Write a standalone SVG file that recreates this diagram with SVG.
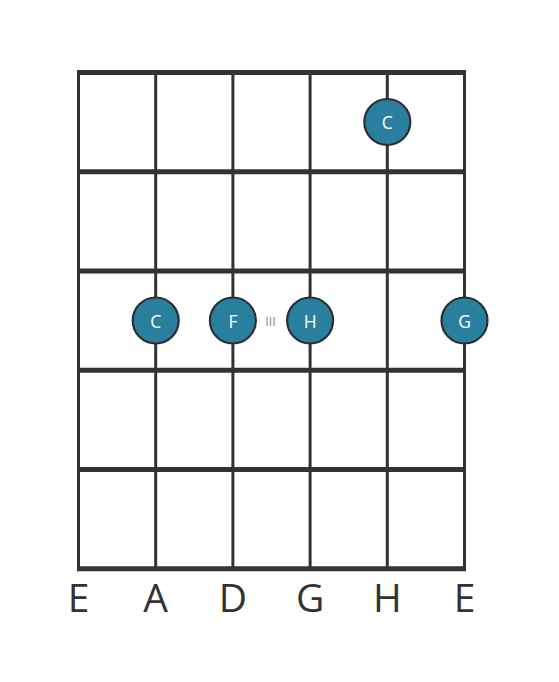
<svg xmlns="http://www.w3.org/2000/svg" width="559" height="682" viewBox="0 0 559 682">
<style>
.fret{stroke:#333;stroke-width:5}
.str{stroke:#333;stroke-width:3}
.dot{fill:#2b7f9e;stroke:#2a2f33;stroke-width:2.2}
.dt{fill:#fff;font-family:"Open Sans",sans-serif;font-size:17.5px;text-anchor:middle;dominant-baseline:central}
.lbl{fill:#333;font-family:"Open Sans",sans-serif;font-size:39px;text-anchor:middle}
</style>
<rect width="559" height="682" fill="#fff"/>
<g id="grid">
<line class="str" x1="78.5" y1="72" x2="78.5" y2="569"/>
<line class="str" x1="155.7" y1="72" x2="155.7" y2="569"/>
<line class="str" x1="232.9" y1="72" x2="232.9" y2="569"/>
<line class="str" x1="310.1" y1="72" x2="310.1" y2="569"/>
<line class="str" x1="387.3" y1="72" x2="387.3" y2="569"/>
<line class="str" x1="464.5" y1="72" x2="464.5" y2="569"/>
<line class="fret" x1="77" y1="72.5" x2="466" y2="72.5"/>
<line class="fret" x1="77" y1="171.7" x2="466" y2="171.7"/>
<line class="fret" x1="77" y1="271" x2="466" y2="271"/>
<line class="fret" x1="77" y1="370.2" x2="466" y2="370.2"/>
<line class="fret" x1="77" y1="469.5" x2="466" y2="469.5"/>
<line class="fret" x1="77" y1="568.7" x2="466" y2="568.7"/>
</g>
<g id="dot-c1"><circle class="dot" cx="387.3" cy="122" r="23"/><text class="dt" x="387.3" y="122">C</text></g>
<g id="dot-c2"><circle class="dot" cx="155.7" cy="320.5" r="23"/><text class="dt" x="155.7" y="320.5">C</text></g>
<g id="dot-f"><circle class="dot" cx="232.9" cy="320.5" r="23"/><text class="dt" x="232.9" y="320.5">F</text></g>
<g id="dot-h"><circle class="dot" cx="310.1" cy="320.5" r="23"/><text class="dt" x="310.1" y="320.5">H</text></g>
<g id="dot-g"><circle class="dot" cx="464.5" cy="320.5" r="23"/><text class="dt" x="464.5" y="320.5">G</text></g>
<text x="270.5" y="321" fill="#888" font-family="'Open Sans',sans-serif" font-size="12.5" text-anchor="middle" dominant-baseline="central">III</text>
<g id="labels">
<text class="lbl" x="78.5" y="612">E</text>
<text class="lbl" x="155.7" y="612">A</text>
<text class="lbl" x="232.9" y="612">D</text>
<text class="lbl" x="310.1" y="612">G</text>
<text class="lbl" x="387.3" y="612">H</text>
<text class="lbl" x="464.5" y="612">E</text>
</g>
</svg>
